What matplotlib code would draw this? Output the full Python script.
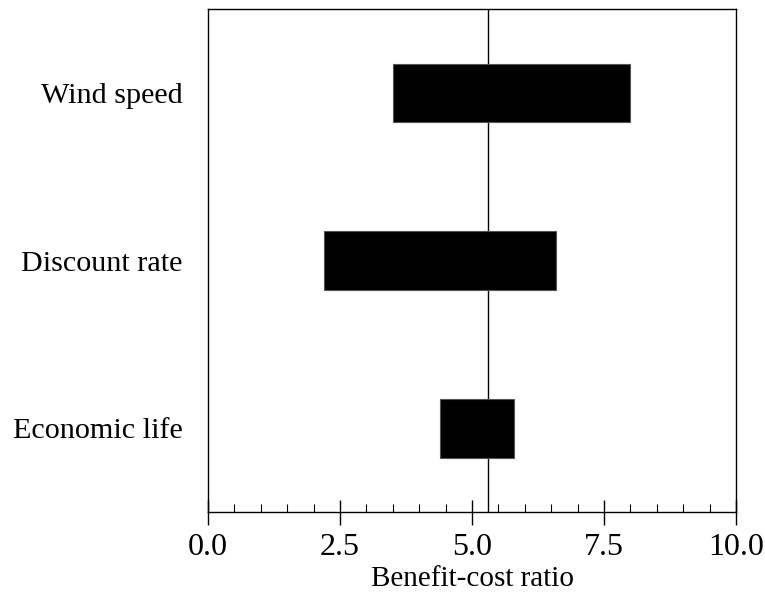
import matplotlib
matplotlib.use('Agg')
import matplotlib.pyplot as plt
from matplotlib.ticker import MultipleLocator

# tornado data
factors = ['Economic life', 'Discount rate', 'Wind speed']
low = [4.4, 2.2, 3.5]
high = [5.8, 6.6, 8.0]
base = 5.3
xticks = [0.0, 2.5, 5.0, 7.5, 10.0]

plt.rcParams['font.family'] = ['Liberation Serif', 'DejaVu Serif']

fig = plt.figure(figsize=(7.65, 5.98), dpi=100)
ax = fig.add_axes([0.272, 0.1438, 0.69, 0.841])

widths = [h - l for l, h in zip(low, high)]
ax.barh(range(len(factors)), widths, left=low, height=0.35, color='black',
        edgecolor='#555555', linewidth=0.8, zorder=2)
ax.axvline(base, color='black', linewidth=1.0, zorder=1)

ax.set_xlim(0, 10)
ax.set_ylim(-0.5, 2.5)
ax.set_yticks(range(len(factors)))
ax.set_yticklabels(factors, fontsize=21.7)
ax.tick_params(axis='y', length=0, pad=18.5)

ax.set_xticks(xticks)
ax.set_xticklabels(['%.1f' % t for t in xticks])
ax.xaxis.set_minor_locator(MultipleLocator(0.5))
ax.tick_params(axis='x', which='major', direction='inout', length=18, width=1, labelsize=23, pad=6)
ax.tick_params(axis='x', which='minor', direction='in', length=6, width=0.8)
ax.set_xlabel('Benefit-cost ratio', fontsize=21, labelpad=3)

for s in ax.spines.values():
    s.set_linewidth(1.0)

fig.savefig('out.png', dpi=100)
